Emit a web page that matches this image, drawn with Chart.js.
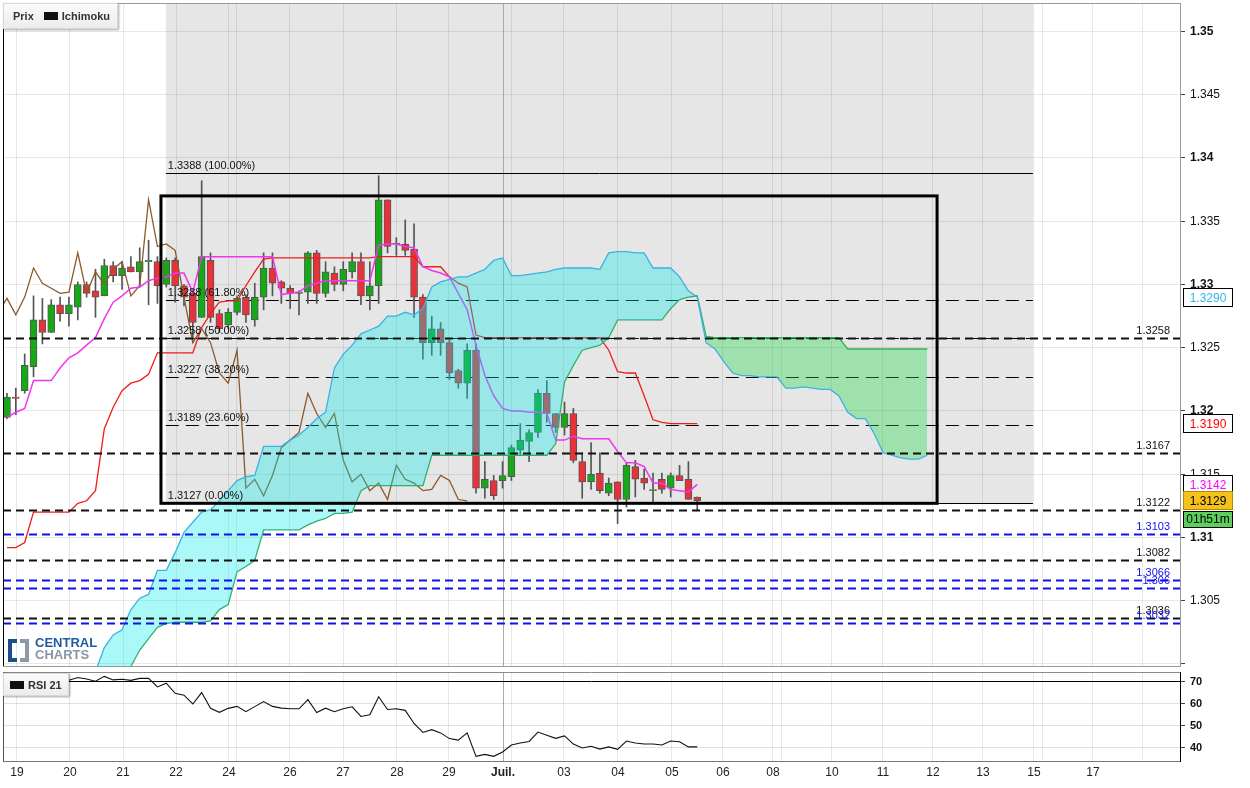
<!DOCTYPE html>
<html>
<head>
<meta charset="utf-8">
<script src="https://cdn.jsdelivr.net/npm/chart.js@4.4.1/dist/chart.umd.min.js"></script>
<style>
  body { margin: 0; background: #fff; width: 1250px; height: 788px; overflow: hidden; position: relative; font-family: Arial, "Liberation Sans", sans-serif; }
  canvas { position: absolute; left: 0; }
  #main { top: 0; }
  #rsi { top: 668px; }
  .leg { position: absolute; box-sizing: border-box; display: flex; align-items: center; background: linear-gradient(#fbfbfb, #ececec); border: 1px solid #d8d8d8; box-shadow: 1px 1px 2px rgba(0,0,0,0.35); font: bold 11px Arial, "Liberation Sans", sans-serif; color: #333; }
  .leg .sq { display: inline-block; width: 14px; height: 8px; background: #111; margin: 0 4px 0 0; }
  #prixLeg { left: 3px; top: 3px; width: 115px; height: 26px; padding-left: 9px; }
  #prixLeg .sq { margin-left: 10px; }
  #rsiLeg { left: 3px; top: 673px; width: 66px; height: 23px; padding-left: 6px; }
  #logo { position: absolute; left: 8px; top: 638px; height: 24px; }
  #logo .bl { position: absolute; left: 0; top: 1px; width: 5px; height: 15px; border: 4px solid #1c4f88; border-right: none; }
  #logo .br { position: absolute; left: 12px; top: 1px; width: 5px; height: 15px; border: 4px solid #8a98a8; border-left: none; }
  #logo .t { position: absolute; left: 27px; top: -1px; font: bold 13px Arial, "Liberation Sans", sans-serif; line-height: 12px; }
  #logo .c1 { color: #1f5c9c; display: block; }
  #logo .c2 { color: #8796a5; display: block; }
</style>
</head>
<body>
<canvas id="main" width="1250" height="668"></canvas>
<canvas id="rsi" width="1250" height="120"></canvas>
<div id="prixLeg" class="leg">Prix<span class="sq"></span>Ichimoku</div>
<div id="rsiLeg" class="leg"><span class="sq"></span>RSI 21</div>
<div id="logo"><div class="bl"></div><div class="br"></div><div class="t"><span class="c1">CENTRAL</span><span class="c2">CHARTS</span></div></div>
<script>
// 4h candles, index 0 = first bar on screen
const opens = [1.3195,1.3211,1.3216,1.3235,1.3272,1.3262,1.3284,1.3277,1.3282,1.3300,
  1.3295,1.3291,1.3315,1.3307,1.3314,1.3310,1.3318,1.3318,1.3300,1.3319,
  1.3299,1.3293,1.3274,1.3319,1.3277,1.3268,1.3278,1.3290,1.3272,1.3290,
  1.3313,1.3302,1.3297,1.3293,1.3294,1.3325,1.3293,1.3309,1.3300,1.3310,
  1.3318,1.3291,1.3299,1.3367,1.3332,1.3332,1.3328,1.3290,1.3254,1.3265,
  1.3254,1.3232,1.3222,1.3248,1.3139,1.3145,1.3145,1.3148,1.3169,1.3176,
  1.3183,1.3214,1.3198,1.3187,1.3198,1.3160,1.3144,1.3151,1.3135,1.3144,
  1.3130,1.3156,1.3147,1.3137,1.3146,1.3139,1.3149,1.3146,1.3132];
const highs = [1.3214,1.3218,1.3245,1.3291,1.3289,1.3288,1.3290,1.3290,1.3302,1.3302,
  1.3312,1.3320,1.3318,1.3318,1.3322,1.3329,1.3335,1.3322,1.3321,1.3321,
  1.3300,1.3296,1.3382,1.3325,1.3280,1.3281,1.3291,1.3292,1.3301,1.3325,
  1.3325,1.3303,1.3299,1.3295,1.3326,1.3327,1.3318,1.3314,1.3318,1.3325,
  1.3325,1.3318,1.3386,1.3367,1.3337,1.3351,1.3348,1.3292,1.3275,1.3270,
  1.3256,1.3233,1.3253,1.3253,1.3160,1.3149,1.3160,1.3173,1.3190,1.3185,
  1.3217,1.3224,1.3198,1.3207,1.3202,1.3167,1.3175,1.3167,1.3147,1.3144,
  1.3159,1.3161,1.3154,1.3151,1.3151,1.3151,1.3157,1.3160,1.3132];
const lows = [1.3194,1.3197,1.3214,1.3227,1.3253,1.3262,1.3271,1.3267,1.3272,1.3290,
  1.3274,1.3291,1.3302,1.3296,1.3310,1.3298,1.3284,1.3285,1.3298,1.3286,
  1.3283,1.3254,1.3274,1.3270,1.3262,1.3265,1.3276,1.3270,1.3267,1.3280,
  1.3291,1.3285,1.3281,1.3276,1.3285,1.3285,1.3290,1.3295,1.3295,1.3305,
  1.3284,1.3280,1.3285,1.3325,1.3323,1.3323,1.3274,1.3241,1.3244,1.3244,
  1.3225,1.3218,1.3210,1.3135,1.3131,1.3130,1.3139,1.3145,1.3165,1.3160,
  1.3179,1.3191,1.3183,1.3181,1.3159,1.3131,1.3138,1.3135,1.3133,1.3111,
  1.3124,1.3132,1.3138,1.3128,1.3135,1.3132,1.3145,1.3130,1.3122];
const closes = [1.3211,1.3210,1.3236,1.3272,1.3262,1.3284,1.3277,1.3284,1.3300,1.3293,
  1.3290,1.3315,1.3307,1.3313,1.3310,1.3318,1.3319,1.3299,1.3319,1.3299,
  1.3290,1.3270,1.3322,1.3274,1.3265,1.3278,1.3289,1.3276,1.3290,1.3313,
  1.3301,1.3297,1.3293,1.3294,1.3325,1.3293,1.3310,1.3300,1.3312,1.3318,
  1.3291,1.3299,1.3367,1.3330,1.3332,1.3327,1.3290,1.3254,1.3265,1.3254,
  1.3230,1.3222,1.3248,1.3139,1.3146,1.3133,1.3149,1.3171,1.3177,1.3183,
  1.3214,1.3198,1.3187,1.3198,1.3161,1.3144,1.3150,1.3137,1.3143,1.3130,
  1.3157,1.3146,1.3143,1.3137,1.3138,1.3149,1.3145,1.3130,1.3129];

// Ichimoku lines
const tenkan = [1.3195,1.3199,1.3202,1.3224,1.3224,1.3224,1.3234,1.3242,1.3246,1.3252,
  1.3258,1.3273,1.3286,1.3291,1.3297,1.3298,1.3303,1.3305,1.3306,1.3309,
  1.3309,1.3294,1.3322,1.3322,1.3322,1.3322,1.3322,1.3322,1.3322,1.3322,
  1.3322,1.3292,1.3293,1.3294,1.3299,1.3301,1.3303,1.3303,1.3303,1.3303,
  1.3303,1.3303,1.3331,1.3332,1.3332,1.3330,1.3329,1.3314,1.3311,1.3309,
  1.3306,1.3293,1.3280,1.3252,1.3228,1.3212,1.3202,1.3200,1.3200,1.3199,
  1.3199,1.3198,1.3177,1.3177,1.3180,1.3178,1.3178,1.3178,1.3178,1.3168,
  1.3159,1.3159,1.3156,1.3143,1.3143,1.3138,1.3137,1.3136,1.3142];
const kijun = [1.3092,1.3092,1.3096,1.3120,1.3120,1.3120,1.3120,1.3120,1.3127,1.3129,
  1.3137,1.3186,1.3203,1.3216,1.3222,1.3224,1.3229,1.3246,1.3246,1.3246,
  1.3246,1.3246,1.3266,1.3277,1.3286,1.3287,1.3287,1.3299,1.3310,1.3320,
  1.3321,1.3321,1.3321,1.3321,1.3321,1.3321,1.3321,1.3321,1.3321,1.3321,
  1.3321,1.3321,1.3322,1.3322,1.3322,1.3322,1.3322,1.3314,1.3314,1.3314,
  1.3306,1.3301,1.3298,1.3260,1.3258,1.3258,1.3258,1.3258,1.3258,1.3258,
  1.3258,1.3258,1.3258,1.3258,1.3258,1.3258,1.3258,1.3258,1.3248,1.3231,
  1.3230,1.3230,1.3212,1.3193,1.3191,1.3190,1.3190,1.3190,1.3190];
const chikouStart = -1;
const chikou = [1.3278,1.3289,1.3276,1.3290,1.3313,1.3301,1.3297,1.3293,1.3294,1.3325,
  1.3293,1.3310,1.3300,1.3312,1.3318,1.3291,1.3299,1.3367,1.3330,1.3332,
  1.3327,1.3290,1.3254,1.3265,1.3254,1.3230,1.3222,1.3248,1.3139,1.3146,
  1.3133,1.3149,1.3171,1.3177,1.3183,1.3214,1.3198,1.3187,1.3198,1.3161,
  1.3144,1.3150,1.3137,1.3143,1.3130,1.3157,1.3146,1.3143,1.3137,1.3138,
  1.3149,1.3145,1.3130,1.3129];
const senkouStart = 9;
const senkouA = [1.2979,1.2994,1.3013,1.3023,1.3027,1.3043,1.3052,1.3055,1.3074,1.3074,
  1.3088,1.3104,1.3112,1.3120,1.3122,1.3129,1.3137,1.3145,1.3148,1.3149,
  1.3172,1.3172,1.3172,1.3177,1.3181,1.3187,1.3194,1.3199,1.3234,1.3245,
  1.3252,1.3261,1.3264,1.3267,1.3275,1.3275,1.3278,1.3276,1.3281,1.3298,
  1.3302,1.3304,1.3306,1.3306,1.3309,1.3312,1.3319,1.3321,1.3307,1.3307,
  1.3308,1.3309,1.3310,1.3312,1.3313,1.3313,1.3313,1.3313,1.3312,1.3325,
  1.3326,1.3326,1.3325,1.3325,1.3313,1.3313,1.3313,1.3306,1.3295,1.3290,
  1.3254,1.3249,1.3239,1.3230,1.3228,1.3228,1.3227,1.3227,1.3227,1.3218,
  1.3218,1.3219,1.3218,1.3217,1.3217,1.3212,1.3199,1.3194,1.3194,1.3182,
  1.3167,1.3165,1.3163,1.3162,1.3162,1.3165];
const senkouB = [1.2956,1.2972,1.2979,1.2987,1.2994,1.2998,1.3011,1.3020,1.3029,1.3032,
  1.3033,1.3033,1.3033,1.3033,1.3034,1.3043,1.3047,1.3073,1.3077,1.3082,
  1.3106,1.3106,1.3106,1.3106,1.3106,1.3110,1.3113,1.3115,1.3119,1.3119,
  1.3120,1.3137,1.3141,1.3141,1.3141,1.3141,1.3141,1.3141,1.3141,1.3165,
  1.3165,1.3165,1.3165,1.3165,1.3165,1.3165,1.3165,1.3165,1.3165,1.3165,
  1.3165,1.3165,1.3165,1.3174,1.3223,1.3236,1.3248,1.3250,1.3252,1.3258,
  1.3272,1.3272,1.3272,1.3272,1.3272,1.3272,1.3281,1.3288,1.3290,1.3291,
  1.3259,1.3258,1.3258,1.3258,1.3258,1.3258,1.3258,1.3258,1.3258,1.3258,
  1.3258,1.3258,1.3258,1.3258,1.3258,1.3258,1.3249,1.3249,1.3249,1.3249,
  1.3249,1.3249,1.3249,1.3249,1.3249,1.3249];

// RSI 21
const rsiStart = 7;
const rsi = [70.7,72.0,71.3,70.3,72.5,70.9,71.2,70.7,71.6,71.6,
  67.7,69.4,64.8,63.9,59.9,65.1,57.9,56.1,57.9,58.8,
  56.4,58.7,61.0,58.8,58.0,57.7,57.7,61.9,56.0,58.0,
  56.4,57.7,58.6,54.2,55.0,63.2,57.4,57.7,57.0,51.0,
  46.9,48.2,46.7,44.1,43.4,46.7,36.0,36.9,36.0,38.0,
  41.2,42.1,42.8,47.1,45.6,44.2,45.3,41.6,39.8,40.6,
  39.3,40.3,39.2,43.0,42.1,41.6,41.6,41.2,43.0,42.7,
  40.3,40.3];

// time axis (bar index positions of the date ticks)
const tickPos = [1.13,7.12,13.11,19.10,25.08,25.99,31.98,37.97,44.07,49.94,56.05,57.06,62.94,
  69.04,75.14,80.90,86.55,87.57,93.22,98.98,104.63,110.28,116.05,117.06,122.71,128.36];
const tickLabels = ['19','20','21','22','24','','26','27','28','29','Juil.','','03',
  '04','05','06','08','','10','11','12','13','15','','17',''];
const priceTicks = [1.30,1.305,1.31,1.315,1.32,1.325,1.33,1.335,1.34,1.345,1.35];
const rsiTicks = [40,50,60,70];

// Fibonacci retracement drawn on the chart
const fibLevels = [1.3388,1.3288,1.3258,1.3227,1.3189,1.3127];
const fibPct = ['100.00%','61.80%','50.00%','38.20%','23.60%','0.00%'];
const fibRange = [17.95, 115.93];
// rectangle drawn by the user
const boxRange = [17.4, 105.1];
const boxPrices = [1.3370, 1.3127];
// horizontal levels
const blackLevels = [1.3258,1.3167,1.3122,1.3082,1.3036];
const blueLevels = [1.3103,1.3066,1.306,1.3032];
// right axis markers: senkou A, kijun, tenkan, last
const markerValues = [1.3290, 1.3190, 1.3142, 1.3129];
const countdown = '01h51m';

const FONT = 'Arial, "Liberation Sans", sans-serif';
const X_MIN = -0.45, X_MAX = 132.55;
const GRID = 'rgba(0,0,0,0.09)';

function series(values, start) {
  return values.map((v, k) => ({ x: start + k, y: v }));
}

function gridColor(c) {
  if (c.type === 'tick' && tickLabels[c.index] === 'Juil.') return '#a9a9a9';
  return GRID;
}

function xScale(showLabels) {
  return {
    type: 'linear',
    min: X_MIN,
    max: X_MAX,
    offset: false,
    afterBuildTicks: (axis) => { axis.ticks = tickPos.map(v => ({ value: v })); },
    afterFit: (s) => {
      s.paddingLeft = 0; s.paddingRight = 0;
      if (!showLabels) s.height = 0;
    },
    grid: { color: gridColor, drawTicks: false, offset: false },
    border: { display: showLabels, color: '#777' },
    ticks: {
      display: showLabels,
      autoSkip: false,
      maxRotation: 0,
      padding: 4,
      color: '#222',
      font: (c) => ({ family: FONT, size: 12, weight: tickLabels[c.index] === 'Juil.' ? 'bold' : 'normal' }),
      callback: (v, i) => tickLabels[i]
    }
  };
}

function fitRight(s) {
  s.width = 70;
  s.paddingTop = 0;
  s.paddingBottom = 0;
}

function hline(ctx, x0, x1, y, color, width, dash) {
  ctx.save();
  ctx.strokeStyle = color;
  ctx.lineWidth = width;
  ctx.setLineDash(dash);
  ctx.beginPath();
  ctx.moveTo(x0, Math.round(y) + 0.5);
  ctx.lineTo(x1, Math.round(y) + 0.5);
  ctx.stroke();
  ctx.restore();
}

const drawings = {
  id: 'drawings',
  beforeDraw(chart) {
    const { ctx, chartArea: a, scales: { x, y } } = chart;
    const x0 = x.getPixelForValue(fibRange[0]);
    const x1 = x.getPixelForValue(fibRange[1]);
    const yb = y.getPixelForValue(fibLevels[fibLevels.length - 1]);
    ctx.save();
    ctx.fillStyle = '#e6e6e6';
    ctx.fillRect(x0, a.top, x1 - x0, yb - a.top);
    ctx.restore();
  },
  beforeDatasetsDraw(chart) {
    const { ctx, scales: { x, y } } = chart;
    const x0 = x.getPixelForValue(fibRange[0]);
    const x1 = x.getPixelForValue(fibRange[1]);
    fibLevels.forEach((v, i) => {
      const solid = i === 0 || i === fibLevels.length - 1;
      hline(ctx, x0, x1, y.getPixelForValue(v), '#000', 1, solid ? [] : [13, 7]);
    });
  },
  afterDatasetsDraw(chart) {
    const { ctx, chartArea: a, scales: { x, y } } = chart;
    blackLevels.forEach(v => hline(ctx, a.left, a.right, y.getPixelForValue(v), '#111', 2, [8, 5]));
    blueLevels.forEach(v => hline(ctx, a.left, a.right, y.getPixelForValue(v), '#1010ee', 2, [8, 5]));

    // user rectangle
    const rx0 = x.getPixelForValue(boxRange[0]), rx1 = x.getPixelForValue(boxRange[1]);
    const ry0 = y.getPixelForValue(boxPrices[0]), ry1 = y.getPixelForValue(boxPrices[1]);
    ctx.save();
    ctx.strokeStyle = '#000';
    ctx.lineWidth = 3;
    ctx.strokeRect(rx0, ry0, rx1 - rx0, ry1 - ry0);

    ctx.font = '11px ' + FONT;
    ctx.textBaseline = 'alphabetic';
    ctx.fillStyle = '#111';
    ctx.textAlign = 'left';
    const fx = x.getPixelForValue(fibRange[0]) + 2;
    fibLevels.forEach((v, i) => {
      ctx.fillText(v.toFixed(4) + ' (' + fibPct[i] + ')', fx, y.getPixelForValue(v) - 4);
    });

    ctx.textAlign = 'right';
    blackLevels.forEach(v => { ctx.fillStyle = '#111'; ctx.fillText(String(v), a.right - 10, y.getPixelForValue(v) - 4); });
    blueLevels.forEach(v => { ctx.fillStyle = '#1010ee'; ctx.fillText(String(v), a.right - 10, y.getPixelForValue(v) - 4); });
    ctx.restore();
  },
  afterDraw(chart) {
    const { ctx, chartArea: a, scales: { y } } = chart;
    ctx.save();
    ctx.strokeStyle = '#9a9a9a';
    ctx.lineWidth = 1;
    ctx.strokeRect(a.left + 0.5, a.top + 0.5, a.right - a.left, a.bottom - a.top);
    ctx.strokeStyle = '#000';
    ctx.beginPath();
    ctx.moveTo(a.left + 0.5, a.top);
    ctx.lineTo(a.left + 0.5, a.bottom);
    ctx.stroke();

    // value markers on the price axis
    const styles = [
      { bg: '#fff', fg: '#33b5e5', bd: '#000' },
      { bg: '#fff', fg: '#ff0000', bd: '#000' },
      { bg: '#fff', fg: '#ff00ff', bd: '#000' },
      { bg: '#f5c21b', fg: '#000', bd: '#b08a00' }
    ];
    const bx = a.right + 3, bw = 50, bh = 19;
    ctx.font = '12px ' + FONT;
    ctx.textAlign = 'center';
    ctx.textBaseline = 'middle';
    let lastBottom = 0;
    markerValues.forEach((v, i) => {
      const cy = y.getPixelForValue(v);
      const top = Math.round(cy - bh / 2);
      const s = styles[i];
      ctx.fillStyle = s.bg;
      ctx.fillRect(bx, top, bw, bh);
      ctx.strokeStyle = s.bd;
      ctx.strokeRect(bx + 0.5, top + 0.5, bw - 1, bh - 1);
      ctx.fillStyle = s.fg;
      ctx.fillText(v.toFixed(4), bx + bw / 2, top + bh / 2 + 1);
      lastBottom = top + bh;
    });
    const ct = lastBottom + 1;
    ctx.fillStyle = '#5ccf5c';
    ctx.fillRect(bx, ct, bw, 17);
    ctx.strokeStyle = '#000';
    ctx.strokeRect(bx + 0.5, ct + 0.5, bw - 1, 16);
    ctx.fillStyle = '#000';
    ctx.fillText(countdown, bx + bw / 2, ct + 9);
    ctx.restore();
  }
};

const bodyColors = opens.map((o, i) => closes[i] >= o ? '#17a817' : '#e8323a');

new Chart(document.getElementById('main'), {
  type: 'bar',
  data: {
    datasets: [
      {
        type: 'bar', label: 'wick', order: 7, grouped: false,
        data: lows.map((l, i) => ({ x: i, y: [l, highs[i]] })),
        backgroundColor: '#555', borderWidth: 0, barThickness: 1
      },
      {
        type: 'bar', label: 'body', order: 6, grouped: false,
        data: opens.map((o, i) => ({ x: i, y: [o, closes[i]] })),
        backgroundColor: bodyColors, borderColor: '#555', borderWidth: 1,
        borderSkipped: false, barThickness: 7, minBarLength: 1
      },
      {
        type: 'line', label: 'Chikou', order: 5, data: series(chikou, chikouStart),
        borderColor: '#8b5a2b', borderWidth: 1.3, pointRadius: 0, fill: false
      },
      {
        type: 'line', label: 'Kijun', order: 4, data: series(kijun, 0),
        borderColor: '#ee1c1c', borderWidth: 1.3, pointRadius: 0, fill: false
      },
      {
        type: 'line', label: 'Tenkan', order: 3, data: series(tenkan, 0),
        borderColor: '#f035f0', borderWidth: 1.5, pointRadius: 0, fill: false
      },
      {
        type: 'line', label: 'Senkou A', order: 1, data: series(senkouA, senkouStart),
        borderColor: '#3ab2e2', borderWidth: 1.3, pointRadius: 0,
        fill: { target: '+1', above: 'rgba(0,235,235,0.33)', below: 'rgba(30,215,70,0.36)' }
      },
      {
        type: 'line', label: 'Senkou B', order: 2, data: series(senkouB, senkouStart),
        borderColor: '#3aa860', borderWidth: 1.3, pointRadius: 0, fill: false
      }
    ]
  },
  options: {
    responsive: false,
    animation: false,
    devicePixelRatio: 1,
    events: [],
    layout: { padding: { left: 3, top: 3, right: 0, bottom: 2 } },
    plugins: { legend: { display: false }, tooltip: { enabled: false } },
    scales: {
      x: xScale(false),
      y: {
        position: 'right',
        min: 1.29984,
        max: 1.35225,
        afterBuildTicks: (axis) => { axis.ticks = priceTicks.map(v => ({ value: v })); },
        afterFit: fitRight,
        grid: { color: GRID, tickLength: 5, tickColor: '#444' },
        border: { color: '#000' },
        ticks: {
          padding: 5,
          color: '#111',
          font: (c) => ({ family: FONT, size: 12, weight: c.tick && Math.abs(c.tick.value * 100 - Math.round(c.tick.value * 100)) < 1e-6 ? 'bold' : 'normal' }),
          callback: (v) => v < 1.302 ? '' : String(Number(v.toFixed(4)))
        }
      }
    }
  },
  plugins: [drawings]
});

const rsiFrame = {
  id: 'rsiFrame',
  afterDraw(chart) {
    const { ctx, chartArea: a } = chart;
    ctx.save();
    ctx.strokeStyle = '#8a8a8a';
    ctx.lineWidth = 1;
    ctx.beginPath();
    ctx.moveTo(a.left, a.top + 0.5);
    ctx.lineTo(a.right, a.top + 0.5);
    ctx.stroke();
    ctx.strokeStyle = '#555';
    ctx.beginPath();
    ctx.moveTo(a.left + 0.5, a.top);
    ctx.lineTo(a.left + 0.5, a.bottom);
    ctx.stroke();
    ctx.restore();
  }
};

new Chart(document.getElementById('rsi'), {
  type: 'line',
  data: {
    datasets: [{
      label: 'RSI 21', data: series(rsi, rsiStart),
      borderColor: '#111', borderWidth: 1.1, pointRadius: 0, fill: false
    }]
  },
  options: {
    responsive: false,
    animation: false,
    devicePixelRatio: 1,
    events: [],
    layout: { padding: { left: 3, top: 4, right: 0, bottom: 4 } },
    plugins: { legend: { display: false }, tooltip: { enabled: false } },
    scales: {
      x: xScale(true),
      y: {
        position: 'right',
        min: 33.6,
        max: 74.5,
        afterBuildTicks: (axis) => { axis.ticks = rsiTicks.map(v => ({ value: v })); },
        afterFit: fitRight,
        grid: { color: (c) => c.tick && c.tick.value === 70 ? '#000' : 'rgba(0,0,0,0.12)', tickLength: 5, tickColor: '#444' },
        border: { color: '#000' },
        ticks: { padding: 5, color: '#111', font: { family: FONT, size: 11, weight: 'bold' } }
      }
    }
  },
  plugins: [rsiFrame]
});
</script>
</body>
</html>
